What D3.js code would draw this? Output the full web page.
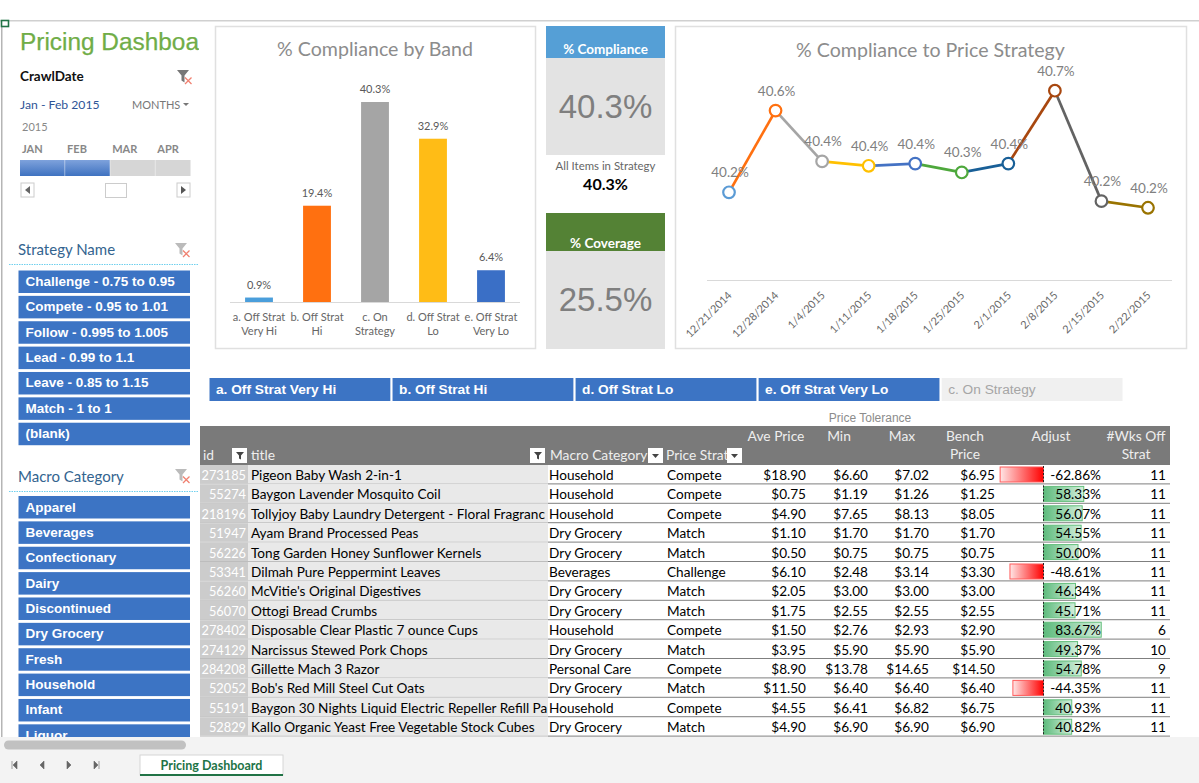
<!DOCTYPE html>
<html><head><meta charset="utf-8">
<script src="https://cdnjs.cloudflare.com/ajax/libs/d3/7.8.5/d3.min.js"></script>
<style>
html,body{margin:0;padding:0;background:#fff;overflow:hidden}
svg{display:block}
text{font-family:Lato,sans-serif}
.ar{font-family:"Liberation Sans",Arial,sans-serif}
</style></head><body><svg id="c" width="1199" height="783"></svg>
<script>
// ---- data ----
const bandLabels=["a. Off Strat Very Hi","b. Off Strat Hi","c. On Strategy","d. Off Strat Lo","e. Off Strat Very Lo"];
const bandLines=[["a. Off Strat","Very Hi"],["b. Off Strat","Hi"],["c. On","Strategy"],["d. Off Strat","Lo"],["e. Off Strat","Very Lo"]];
const bandValues=[0.9,19.4,40.3,32.9,6.4];
const bandColors=["#4a9edb","#ff7010","#a5a5a5","#ffbc16","#3a6fc6"];
const weekDates=["12/21/2014","12/28/2014","1/4/2015","1/11/2015","1/18/2015","1/25/2015","2/1/2015","2/8/2015","2/15/2015","2/22/2015"];
const weekValues=[40.24,40.61,40.38,40.36,40.37,40.33,40.37,40.70,40.20,40.17];
const weekColors=["#5b9bd5","#ff7010","#a5a5a5","#ffc000","#4472c4","#4ea83c","#185f97","#a8470f","#636363","#997300"];
const strategyNames=["Challenge - 0.75 to 0.95","Compete - 0.95 to 1.01","Follow - 0.995 to 1.005","Lead - 0.99 to 1.1","Leave - 0.85 to 1.15","Match - 1 to 1","(blank)"];
const macroNames=["Apparel","Beverages","Confectionary","Dairy","Discontinued","Dry Grocery","Fresh","Household","Infant","Liquor"];
const monthNames=["JAN","FEB","MAR","APR"];
const monthSelected=[true,true,false,false];
const bandButtons=["a. Off Strat Very Hi","b. Off Strat Hi","d. Off Strat Lo","e. Off Strat Very Lo","c. On Strategy"];
const buttonActive=[true,true,true,true,false];
const ids=[273185,55274,218196,51947,56226,53341,56260,56070,278402,274129,284208,52052,55191,52829];
const titles=["Pigeon Baby Wash 2-in-1","Baygon Lavender Mosquito Coil","Tollyjoy Baby Laundry Detergent - Floral Fragranc","Ayam Brand Processed Peas","Tong Garden Honey Sunflower Kernels","Dilmah Pure Peppermint Leaves","McVitie's Original Digestives","Ottogi Bread Crumbs","Disposable Clear Plastic 7 ounce Cups","Narcissus Stewed Pork Chops","Gillette Mach 3 Razor","Bob's Red Mill Steel Cut Oats","Baygon 30 Nights Liquid Electric Repeller Refill Pa","Kallo Organic Yeast Free Vegetable Stock Cubes"];
const macros=["Household","Household","Household","Dry Grocery","Dry Grocery","Beverages","Dry Grocery","Dry Grocery","Household","Dry Grocery","Personal Care","Dry Grocery","Household","Dry Grocery"];
const strategies=["Compete","Compete","Compete","Match","Match","Challenge","Match","Match","Compete","Match","Compete","Match","Compete","Match"];
const avePrices=[18.90,0.75,4.90,1.10,0.50,6.10,2.05,1.75,1.50,3.95,8.90,11.50,4.55,4.90];
const minPrices=[6.60,1.19,7.65,1.70,0.75,2.48,3.00,2.55,2.76,5.90,13.78,6.40,6.41,6.90];
const maxPrices=[7.02,1.26,8.13,1.70,0.75,3.14,3.00,2.55,2.93,5.90,14.65,6.40,6.82,6.90];
const benchPrices=[6.95,1.25,8.05,1.70,0.75,3.30,3.00,2.55,2.90,5.90,14.50,6.40,6.75,6.90];
const adjusts=[-62.86,58.33,56.07,54.55,50.00,-48.61,46.34,45.71,83.67,49.37,54.78,-44.35,40.93,40.82];
const weeksOff=[11,11,11,11,11,11,11,11,6,10,9,11,11,11];

const svg=d3.select("#c");
const defs=svg.append("defs");
const gr=defs.append("linearGradient").attr("id","gGreen");
gr.append("stop").attr("offset","0").attr("stop-color","#5dbb7c");
gr.append("stop").attr("offset","1").attr("stop-color","#d3eedc");
const rd=defs.append("linearGradient").attr("id","gRed");
rd.append("stop").attr("offset","0").attr("stop-color","#ffe6e6");
rd.append("stop").attr("offset","1").attr("stop-color","#ff0000");
const gm=defs.append("linearGradient").attr("id","gMonth").attr("x2",0).attr("y2",1);
gm.append("stop").attr("offset","0").attr("stop-color","#7ea2dc");
gm.append("stop").attr("offset","1").attr("stop-color","#3f72c0");
defs.append("clipPath").attr("id","sideClip").append("rect").attr("x",0).attr("y",20).attr("width",199).attr("height",717);
defs.append("clipPath").attr("id","stratClip").append("rect").attr("x",660).attr("y",440).attr("width",67).attr("height",30);

function rect(p,x,y,w,h,f,st){const r=p.append("rect").attr("x",x).attr("y",y).attr("width",w).attr("height",h).attr("fill",f);if(st)r.attr("stroke",st);return r;}
function txt(p,x,y,s,size,fill,anchor,weight,cls){const t=p.append("text").attr("x",x).attr("y",y).attr("font-size",size).attr("fill",fill).attr("text-anchor",anchor||"start").text(s);if(weight)t.attr("font-weight",weight);if(cls)t.attr("class",cls);return t;}

// frame
rect(svg,0,20,1199,1.5,"#d0d0d0");
rect(svg,1,20,1.5,720,"#b5b5b5");
rect(svg,1.5,20.5,7,6,"#fff","#217346").attr("stroke-width",1.6);

// sidebar
const side=svg.append("g").attr("clip-path","url(#sideClip)");
txt(side,20,49.5,"Pricing Dashboard",24.4,"#70ad47","start",null,"ar").attr("stroke","#70ad47").attr("stroke-width",0.25);
txt(side,20,81,"CrawlDate",13.5,"#111","start","700");
txt(side,20,109,"Jan - Feb 2015",12.2,"#2f5597");
txt(side,132,109,"MONTHS",11,"#777");
side.append("path").attr("d","M183 103h6l-3 3z").attr("fill","#777");
txt(side,22,131,"2015",11,"#888");
const mX=d3.scaleBand().domain(monthNames).range([20,200]).paddingInner(0.01);
monthNames.forEach((m,i)=>{
  txt(side,mX(m)+2,153,m,11,"#888","start","700");
  rect(side,mX(m),160,Math.min(mX.bandwidth(),190.5-mX(m)),16,monthSelected[i]?"url(#gMonth)":"#d6d6d6");
});
rect(side,21,183,13,14,"#fff","#ccc");side.append("path").attr("d","M30 186v8l-5-4z").attr("fill","#666");
rect(side,105.5,183.5,21,14,"#fff","#ccc");
rect(side,177,183,13,14,"#fff","#ccc");side.append("path").attr("d","M181 186v8l5-4z").attr("fill","#555");

function funnel(x,y,c){
  side.append("path").attr("d",`M${x} ${y}h12l-4.5 5.5v7l-3 -2v-5z`).attr("fill",c);
  side.append("path").attr("d",`M${x+8} ${y+7.5}l6.5 6.5m0 -6.5l-6.5 6.5`).attr("stroke","#f08070").attr("stroke-width",1.3);
}
funnel(177,70,"#777");funnel(175,243,"#bbb");funnel(175,469,"#bbb");

function slicer(name,y0,top,items){
  txt(side,18,y0,name,15,"#33648f");
  side.append("line").attr("x1",9).attr("x2",200).attr("y1",y0+9.5).attr("y2",y0+9.5).attr("stroke","#6fd0ee").attr("stroke-dasharray","1.5 1");
  const yS=d3.scalePoint().domain(items).range([top,top+25.37*(items.length-1)]);
  items.forEach(s=>{
    rect(side,18.5,yS(s),171.5,22.5,"#3c74c4");
    txt(side,25.5,yS(s)+15.5,s,13.5,"#fff","start","700","ar");
  });
}
slicer("Strategy Name",255,270.5,strategyNames);
slicer("Macro Category",482,496,macroNames);

// bar chart card
rect(svg,215.5,26.5,320,322,"#fff","#e0e0e0").attr("stroke-width",1.5);
txt(svg,375,56,"% Compliance by Band",19.6,"#8c8c8c","middle");
const barInner=d3.scaleBand().domain(bandLabels).range([230,520]).paddingInner(0.52).paddingOuter(0.26);
const by=d3.scaleLinear().domain([0,40.3]).range([302,102]);
const bg=svg.append("g");
bg.selectAll("rect").data(bandLabels).join("rect")
  .attr("x",d=>barInner(d)).attr("width",barInner.bandwidth())
  .attr("y",(d,i)=>by(bandValues[i])).attr("height",(d,i)=>by(0)-by(bandValues[i]))
  .attr("fill",(d,i)=>bandColors[i]);
bg.selectAll("text").data(bandLabels).join("text")
  .attr("x",d=>barInner(d)+barInner.bandwidth()/2).attr("y",(d,i)=>by(bandValues[i])-9)
  .attr("text-anchor","middle").attr("font-size",11).attr("fill","#595959")
  .text((d,i)=>bandValues[i].toFixed(1)+"%");
const bAxis=svg.append("g").attr("transform","translate(0,302)").call(d3.axisBottom(barInner).tickSize(0).tickPadding(0));
bAxis.select(".domain").attr("stroke","#d9d9d9").attr("d","M230 0.5H520");
bAxis.selectAll("text").each(function(d,i){
  const t=d3.select(this).text(null).attr("font-size",11).attr("fill","#666").attr("font-family","Lato").attr("y",0).attr("dy",null);
  bandLines[i].forEach((l,j)=>t.append("tspan").attr("x",0).attr("y",19+j*14.3).text(l));
});

// KPI column
function kpi(y0,h0,col,label,ly,h1,val){
  rect(svg,546,y0,119,h0,col);
  txt(svg,605.5,ly,label,13.5,"#fff","middle","700");
  rect(svg,546,y0+h0,119,h1,"#e3e3e3");
  txt(svg,605.5,y0+h0+h1/2+11,val,33,"#7f7f7f","middle",null,"ar");
}
kpi(26,32,"#559fd6","% Compliance",54,97,"40.3%");
txt(svg,605.5,170,"All Items in Strategy",11.4,"#666","middle");
txt(svg,605.5,190,"40.3%",16,"#000","middle","700");
kpi(213,38,"#548235","% Coverage",248,98,"25.5%");

// line chart card
rect(svg,675.5,26.5,511,322,"#fff","#e0e0e0").attr("stroke-width",1.5);
txt(svg,930.5,57,"% Compliance to Price Strategy",19.6,"#8c8c8c","middle");
const lx=d3.scalePoint().domain(weekDates).range([729,1148]);
const ly=d3.scaleLinear().domain([39.843,40.70]).range([280,90.7]);
const lg=svg.append("g");
d3.pairs(weekDates.map((d,i)=>[lx(d),ly(weekValues[i])])).forEach((p,i)=>{
  lg.append("path").attr("d",d3.line()(p)).attr("stroke",weekColors[i+1]).attr("stroke-width",2.7).attr("fill","none");
});
lg.selectAll("circle").data(weekDates).join("circle")
  .attr("cx",d=>lx(d)).attr("cy",(d,i)=>ly(weekValues[i])).attr("r",5.8)
  .attr("fill","#fff").attr("stroke",(d,i)=>weekColors[i]).attr("stroke-width",2.2);
lg.selectAll("text").data(weekDates).join("text")
  .attr("x",d=>lx(d)+1).attr("y",(d,i)=>ly(weekValues[i])-15)
  .attr("text-anchor","middle").attr("font-size",13.5).attr("fill","#808080")
  .text((d,i)=>weekValues[i].toFixed(1)+"%");
const lAxis=svg.append("g").attr("transform","translate(0,280)").call(d3.axisBottom(lx).tickSize(0));
lAxis.select(".domain").attr("stroke","#d9d9d9").attr("d","M707 0.5H1172");
lAxis.selectAll("text").attr("font-size",10.8).attr("fill","#666").attr("font-family","Lato")
  .attr("text-anchor","end").attr("dy",0).attr("y",0)
  .attr("transform","translate(3,16) rotate(-45)");

// filter buttons
const btnX=d3.scaleBand().domain(bandButtons).range([209.5,1122.5]).paddingInner(0.012);
bandButtons.forEach((b,i)=>{
  rect(svg,btnX(b),378,btnX.bandwidth(),23,buttonActive[i]?"#3c74c4":"#f0f0f0");
  txt(svg,btnX(b)+6.5,394,b,13.7,buttonActive[i]?"#fff":"#a6a6a6","start",buttonActive[i]?"700":null,"ar");
});

// table
txt(svg,870,422,"Price Tolerance",12,"#8c8c8c","middle",null,"ar");
rect(svg,200,426,970,39,"#7a7a7a");
const hc="#eeeeee",hs=13.8;
const headers=[["id",203,460,"start"],["title",251,460,"start"],["Macro Category",550,460,"start"],["Ave Price",776,441,"middle"],["Min",839,441,"middle"],["Max",902,441,"middle"],["Bench",965,441,"middle"],["Price",965,459,"middle"],["Adjust",1051,441,"middle"],["#Wks Off",1136,441,"middle"],["Strat",1136,459,"middle"]];
headers.forEach(h=>txt(svg,h[1],h[2],h[0],hs,hc,h[3]));
txt(svg,666,460,"Price Strat",hs,hc).attr("clip-path","url(#stratClip)");
[[232,true],[530,true],[648,false],[727,false]].forEach(b=>{
  rect(svg,b[0],448,15,15,"#fff");
  if(b[1]) svg.append("path").attr("d",`M${b[0]+4} 452h8l-3 3.5v4l-2 -1v-3z`).attr("fill","#444");
  else svg.append("path").attr("d",`M${b[0]+4} 454h7l-3.5 4z`).attr("fill","#444");
});
const rowY=d3.scaleLinear().domain([0,ids.length]).range([465,465+19.4*ids.length]);
const adjX=d3.scaleLinear().domain([0,100]).range([1043.5,1112.5]);
const money=d3.format("$.2f");
const tg=svg.append("g");
const fs=13.6;
ids.forEach((id,i)=>{
  const y=rowY(i),h=rowY(i+1)-y,base=y+15;
  rect(tg,200,y,48,h-1,"#cccccc");
  rect(tg,248,y,300,h-1,"#e9e9e9");
  rect(tg,200,y+h-1,348,1,"#bdbdbd");
  rect(tg,548,y+h-1,622,1,"#7f7f7f");
  txt(tg,246,base,id,12.8,"#fff","end");
  txt(tg,251,base,titles[i],fs,"#000");
  txt(tg,549,base,macros[i],fs,"#000");
  txt(tg,667,base,strategies[i],fs,"#000");
  txt(tg,806,base,money(avePrices[i]),fs,"#000","end");
  txt(tg,868,base,money(minPrices[i]),fs,"#000","end");
  txt(tg,929,base,money(maxPrices[i]),fs,"#000","end");
  txt(tg,995,base,money(benchPrices[i]),fs,"#000","end");
  const v=adjusts[i],x0=adjX(Math.min(0,v)),w=Math.abs(adjX(v)-adjX(0));
  rect(tg,x0,y+2,w,15,v<0?"url(#gRed)":"url(#gGreen)",v<0?"#ff5a5a":"#63be7b");
  tg.append("line").attr("x1",adjX(0)).attr("x2",adjX(0)).attr("y1",y+1).attr("y2",y+18).attr("stroke","#222").attr("stroke-dasharray","2 1.5");
  txt(tg,1101,base,v.toFixed(2)+"%",fs,"#000","end");
  txt(tg,1166,base,weeksOff[i],fs,"#000","end");
});

// bottom chrome
rect(svg,0,737,1199,46,"#f3f3f3");
rect(svg,4,740.5,182,9,"#c1c1c1").attr("rx",4.5);
[14,42,69,97].forEach((x,i)=>{
  const d=[`M${x-2} 761v8M${x+3} 761l-4 4 4 4z`,`M${x+2} 761l-4 4 4 4z`,`M${x-2} 761l4 4 -4 4z`,`M${x+2} 761v8M${x-3} 761l4 4 -4 4z`][i];
  svg.append("path").attr("d",d).attr("fill","#666").attr("stroke","#666").attr("stroke-width",0.6);
});
rect(svg,140,755,143,20,"#fff","#d6d6d6");
rect(svg,140,774,143,2,"#217346");
txt(svg,211.5,770,"Pricing Dashboard",12.5,"#217346","middle","700");
</script></body></html>
